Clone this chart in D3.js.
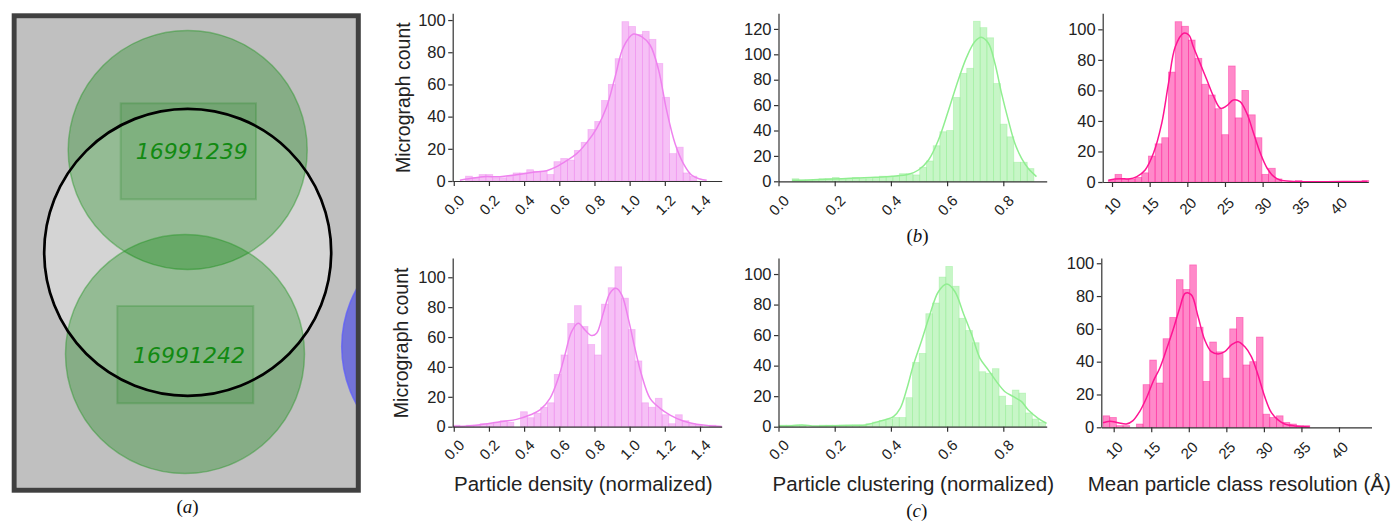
<!DOCTYPE html>
<html>
<head>
<meta charset="utf-8">
<script src="https://cdn.jsdelivr.net/npm/d3@7"></script>
<style>
    body { margin: 0; background: #fff; }
    svg { display: block; }
</style>
</head>
<body>
<div id="chart"></div>
<script>
(function(){
    // tick values
    const densityTicks = [0.0, 0.2, 0.4, 0.6, 0.8, 1.0, 1.2, 1.4];
    const clusteringTicks = [0.0, 0.2, 0.4, 0.6, 0.8];
    const resolutionTicks = [10, 15, 20, 25, 30, 35, 40];
    const countTicks = [0, 20, 40, 60, 80, 100];
    const countTicksTall = [0, 20, 40, 60, 80, 100, 120];

    // axis texts
    const yLabel = "Micrograph count";
    const xLabels = ["Particle density (normalized)", "Particle clustering (normalized)", "Mean particle class resolution (Å)"];
    const panelLetters = ["a", "b", "c"];
    const micrographIds = ["16991239", "16991242"];

    // row (b): histogram bins (first edge, width) and counts, kde
    const densityBStart = 0.0669, densityBWidth = 0.03867;
    const densityBCounts = [3, 2, 4, 4, 2, 2, 3, 5, 5, 7, 6, 6, 4, 12, 14, 13, 19, 24, 32, 37,
        50, 60, 76, 99, 96, 91, 93, 88, 73, 52, 17, 21, 5, 3];
    const densityBKde = [[0.035, 0.4], [0.073, 1.2], [0.168, 2.7], [0.263, 2.7], [0.357, 3.9], [0.452, 5.4],
        [0.528, 6.4], [0.585, 8.9], [0.642, 12.6], [0.699, 17], [0.755, 23.7], [0.812, 32.6], [0.869, 46],
        [0.917, 64.5], [0.964, 83], [1.021, 91.3], [1.068, 89.7], [1.116, 84.5], [1.163, 69.7], [1.21, 44],
        [1.258, 23.3], [1.305, 11], [1.352, 3.7], [1.4, 1.2], [1.438, 0.4]];

    const clusteringBStart = 0.0485, clusteringBWidth = 0.0239;
    const clusteringBCounts = [2, 1, 1, 1, 2, 2, 3, 2, 2, 3, 2, 2, 3, 4, 3, 4, 6, 6, 5, 11,
        16, 28, 39, 40, 66, 85, 89, 126, 121, 113, 77, 45, 35, 15, 15, 10];
    const clusteringBKde = [[0.0485, 0.8], [0.108, 1], [0.167, 1.6], [0.226, 2.1], [0.285, 2.6], [0.344, 3.1],
        [0.404, 3.9], [0.463, 5.5], [0.498, 8.9], [0.534, 16.8], [0.569, 32.5], [0.605, 56], [0.640, 80],
        [0.670, 98], [0.699, 110], [0.721, 113.4], [0.747, 108.7], [0.770, 93], [0.794, 69], [0.818, 48],
        [0.841, 30], [0.865, 18], [0.889, 10], [0.918, 3.7]];

    const resolutionBStart = 9.51, resolutionBWidth = 0.8867;
    const resolutionBCounts = [1, 5, 2, 2, 3, 6, 17, 25, 29, 72, 105, 102, 93, 81, 64, 57, 48, 31, 76, 42,
        60, 44, 29, 5, 9, 2, 0, 0, 1, 0, 0, 0, 0, 0, 0, 0, 0, 0, 1];
    const resolutionBKde = [[9.51, 1.1], [10.4, 2], [11.3, 2.2], [12.2, 2], [13.3, 3.5], [14.4, 7.9], [15.5, 18.8],
        [16.6, 38.4], [17.5, 64.6], [18.4, 88.6], [19.5, 97.4], [20.2, 96.3], [20.8, 88.6], [21.7, 77.7],
        [22.6, 66.8], [23.5, 55.9], [24.4, 48.3], [25.2, 49.8], [26.1, 53.7], [27.0, 52.6], [27.9, 45],
        [28.8, 31.9], [29.7, 18.8], [30.6, 9], [31.5, 3.5], [32.3, 1.3], [34.1, 0.4], [38.5, 0.2], [43.9, 0.4]];

    // row (c)
    const densityCStart = -0.003, densityCWidth = 0.0383;
    const densityCCounts = [1, 0, 1, 1, 2, 2, 3, 4, 3, 0, 10, 6, 9, 13, 16, 35, 48, 69, 81, 67,
        55, 48, 82, 93, 107, 86, 65, 44, 16, 13, 19, 8, 2, 8, 4, 2, 1, 0, 1];
    const densityCKde = [[0, 0.2], [0.073, 0.4], [0.168, 1.6], [0.263, 3.3], [0.357, 4.9], [0.433, 7.8],
        [0.49, 11.2], [0.547, 19], [0.594, 32.4], [0.632, 48], [0.67, 63.6], [0.708, 69.2], [0.746, 64.7],
        [0.784, 61], [0.812, 62.5], [0.85, 75.9], [0.888, 89.3], [0.922, 92.6], [0.955, 88.2], [0.992, 72.5],
        [1.03, 52.5], [1.068, 34.6], [1.116, 19], [1.173, 12.3], [1.23, 7.8], [1.305, 3.8], [1.381, 1.6],
        [1.457, 0.7], [1.524, 0.2]];

    const clusteringCStart = 0.0036, clusteringCWidth = 0.02367;
    const clusteringCCounts = [1, 1, 1, 1, 0, 0, 1, 1, 1, 1, 1, 1, 1, 2, 3, 4, 5, 6, 6, 19,
        42, 48, 74, 81, 98, 105, 92, 71, 63, 55, 36, 35, 38, 20, 14, 24, 22, 9, 5, 3];
    const clusteringCKde = [[0.001, 0.4], [0.049, 0.7], [0.084, 1.1], [0.131, 0.4], [0.202, 0.7], [0.273, 0.9],
        [0.309, 1.1], [0.344, 2.8], [0.38, 4.6], [0.409, 6.6], [0.433, 12], [0.457, 25], [0.48, 40.4],
        [0.51, 56.8], [0.54, 74.2], [0.569, 88.4], [0.599, 93.4], [0.628, 88.4], [0.658, 74.2], [0.688, 60],
        [0.717, 44.8], [0.747, 37.1], [0.776, 29.5], [0.806, 22.9], [0.836, 19.7], [0.865, 16.4],
        [0.889, 10.9], [0.924, 5.5], [0.954, 2.2]];

    const resolutionCStart = 8.58, resolutionCWidth = 0.888;
    const resolutionCCounts = [7, 6, 1, 1, 0, 2, 26, 41, 27, 54, 67, 90, 84, 99, 61, 28, 52, 46, 30, 60,
        67, 38, 40, 55, 8, 6, 7, 3, 2, 1, 1];
    const resolutionCKde = [[8.58, 2.8], [9.47, 3.7], [10.58, 2.8], [11.69, 2], [12.57, 4.1], [13.46, 9.6],
        [14.35, 17.7], [15.24, 27.8], [16.13, 36], [17.01, 47.2], [17.9, 59.3], [18.79, 72.6], [19.54, 81.7],
        [20.34, 80.7], [21.23, 67.5], [22.12, 53.3], [23.0, 46.1], [23.89, 44.7], [24.78, 46.1], [25.67, 50.2],
        [26.56, 52.2], [27.44, 49.2], [28.33, 43.1], [29.22, 31.9], [30.11, 18.7], [31.0, 8.9], [31.88, 4.5],
        [32.77, 2], [34.1, 0.8], [36.1, 0.2]];

    const W = 1397, H = 523;
    const FONT = "'Liberation Sans', Arial, sans-serif";
    const INK = "#222";

    var svg = d3.select("#chart").append("svg")
        .attr("width", W)
        .attr("height", H);

    // ---------- panel (a): micrograph picking view ----------
    var Micrograph = {
        draw: function() {
            var g = svg.append("g");
            g.append("clipPath").attr("id", "frameClip")
                .append("rect").attr("x", 16.7).attr("y", 18.3).attr("width", 339.3).attr("height", 469.4);
            var inner = g.append("g").attr("clip-path", "url(#frameClip)");
            inner.append("rect").attr("x", 10).attr("y", 10).attr("width", 360).attr("height", 490)
                .attr("fill", "#c0c0c0");
            // lighter disc behind the picked particles
            inner.append("circle").attr("cx", 187.7).attr("cy", 252.3).attr("r", 143.5)
                .attr("fill", "#d4d4d4");
            var discs = [{cx: 187.7, cy: 150, box: [120.7, 103.3, 135.3, 96]},
                         {cx: 185, cy: 354, box: [117.3, 306, 136, 97.3]}];
            inner.selectAll("circle.pick").data(discs).enter().append("circle")
                .attr("class", "pick")
                .attr("cx", function(d){ return d.cx; })
                .attr("cy", function(d){ return d.cy; })
                .attr("r", 119.5)
                .attr("fill", "rgba(0,128,0,0.3)")
                .attr("stroke", "rgba(40,150,40,0.45)")
                .attr("stroke-width", 1.5);
            inner.selectAll("rect.box").data(discs).enter().append("rect")
                .attr("class", "box")
                .attr("x", function(d){ return d.box[0]; })
                .attr("y", function(d){ return d.box[1]; })
                .attr("width", function(d){ return d.box[2]; })
                .attr("height", function(d){ return d.box[3]; })
                .attr("fill", "rgba(0,120,0,0.14)")
                .attr("stroke", "rgba(0,120,0,0.18)")
                .attr("stroke-width", 2);
            // neighbouring particle, cut by the frame
            inner.append("circle").attr("cx", 461.7).attr("cy", 346.7).attr("r", 120)
                .attr("fill", "rgba(0,0,255,0.4)")
                .attr("stroke", "rgba(90,90,255,0.7)")
                .attr("stroke-width", 1.5);
            inner.selectAll("text.id").data(discs).enter().append("text")
                .attr("class", "id")
                .attr("x", function(d){ return d.cx + 4; })
                .attr("y", function(d){ return d.cy + 9; })
                .attr("text-anchor", "middle")
                .attr("font-family", "'DejaVu Sans', sans-serif")
                .attr("font-style", "italic")
                .attr("font-size", "22px")
                .attr("fill", "#128a12")
                .text(function(d, i){ return micrographIds[i]; });
            inner.append("circle").attr("cx", 187.7).attr("cy", 252.3).attr("r", 143.5)
                .attr("fill", "none").attr("stroke", "#000").attr("stroke-width", 2.7);
            g.append("rect").attr("x", 14.2).attr("y", 15.8).attr("width", 344.1).attr("height", 474.4)
                .attr("fill", "none").attr("stroke", "#404040").attr("stroke-width", 5);
        }
    };

    // ---------- histogram panels ----------
    var panels = [
        {counts: densityBCounts, start: densityBStart, width: densityBWidth, kde: densityBKde, color: "#ee82ee",
         xTicks: densityTicks, yTicks: countTicks, fmt: ".1f", xDomain: [-0.006, 1.5234], yMax: 104.2,
         left: 452.7, right: 721.7, base: 181, top: 13.3, labelDy: 24, yLabelX: 409.5},
        {counts: clusteringBCounts, start: clusteringBStart, width: clusteringBWidth, kde: clusteringBKde, color: "#90ee90",
         xTicks: clusteringTicks, yTicks: countTicksTall, fmt: ".1f", xDomain: [0, 0.9544], yMax: 132.3,
         left: 778.5, right: 1046.7, base: 181.3, top: 13.3, labelDy: 24},
        {counts: resolutionBCounts, start: resolutionBStart, width: resolutionBWidth, kde: resolutionBKde, color: "#ff1493",
         xTicks: resolutionTicks, yTicks: countTicks, fmt: "d", xDomain: [8.764, 44.03], yMax: 110.5,
         left: 1102.7, right: 1368.3, base: 182, top: 13.3, labelDy: 24},
        {counts: densityCCounts, start: densityCStart, width: densityCWidth, kde: densityCKde, color: "#ee82ee",
         xTicks: densityTicks, yTicks: countTicks, fmt: ".1f", xDomain: [-0.006, 1.5234], yMax: 112.9,
         left: 452.7, right: 721.7, base: 426.7, top: 258, labelDy: 23, yLabelX: 407.5,
         xLabel: xLabels[0], xLabelX: 583.3},
        {counts: clusteringCCounts, start: clusteringCStart, width: clusteringCWidth, kde: clusteringCKde, color: "#90ee90",
         xTicks: clusteringTicks, yTicks: countTicks, fmt: ".1f", xDomain: [0, 0.9544], yMax: 110.5,
         left: 778.5, right: 1046.7, base: 426.7, top: 258, labelDy: 23,
         xLabel: xLabels[1], xLabelX: 913.3},
        {counts: resolutionCCounts, start: resolutionCStart, width: resolutionCWidth, kde: resolutionCKde, color: "#ff1493",
         xTicks: resolutionTicks, yTicks: countTicks, fmt: "d", xDomain: [8.35, 44.33], yMax: 103.2,
         left: 1101.3, right: 1371.5, base: 427.3, top: 258, labelDy: 23,
         xLabel: xLabels[2], xLabelX: 1239.2}
    ];

    var Hist = {
        draw: function(p) {
            var x = d3.scaleLinear().domain(p.xDomain).range([p.left, p.right]);
            var y = d3.scaleLinear().domain([0, p.yMax]).range([p.base, p.top]);
            var g = svg.append("g");

            // bars
            g.selectAll("rect")
                .data(p.counts.map(function(c, i){ return {c: c, i: i}; }).filter(function(d){ return d.c > 0; }))
                .enter()
                .append("rect")
                .attr("x", function(d){ return x(p.start + d.i * p.width); })
                .attr("width", function(d){ return x(p.start + (d.i + 1) * p.width) - x(p.start + d.i * p.width); })
                .attr("y", function(d){ return y(d.c); })
                .attr("height", function(d){ return p.base - y(d.c); })
                .attr("fill", p.color)
                .attr("fill-opacity", 0.5)
                .attr("stroke", p.color)
                .attr("stroke-opacity", 0.45)
                .attr("stroke-width", 0.8);

            // kde
            var line = d3.line()
                .x(function(d){ return x(d[0]); })
                .y(function(d){ return y(d[1]); })
                .curve(d3.curveCatmullRom.alpha(0.5));
            g.append("path")
                .datum(p.kde)
                .attr("d", line)
                .attr("fill", "none")
                .attr("stroke", p.color)
                .attr("stroke-width", 1.5);

            // axes
            var xAxis = g.append("g")
                .attr("transform", "translate(0," + p.base + ")")
                .call(d3.axisBottom(x).tickValues(p.xTicks).tickFormat(d3.format(p.fmt)).tickSize(5).tickSizeOuter(0));
            xAxis.selectAll("text")
                .attr("y", null)
                .attr("dy", "0.35em")
                .attr("transform", "translate(0," + p.labelDy + ") rotate(-45)")
                .attr("text-anchor", "middle")
                .attr("font-size", "15px");
            var yAxis = g.append("g")
                .attr("transform", "translate(" + p.left + ",0)")
                .call(d3.axisLeft(y).tickValues(p.yTicks).tickSize(4.5).tickPadding(2.5).tickSizeOuter(0));
            yAxis.selectAll("text").attr("font-size", "16.5px");
            [xAxis, yAxis].forEach(function(a){
                a.attr("font-family", FONT);
                a.selectAll("text").attr("fill", INK);
                a.selectAll("path, line").attr("stroke", "#333").attr("stroke-width", 1.2);
            });

            if (p.yLabelX) {
                g.append("text")
                    .attr("transform", "translate(" + p.yLabelX + "," + ((p.base + p.top) / 2 + 0.5) + ") rotate(-90)")
                    .attr("text-anchor", "middle")
                    .attr("font-family", FONT)
                    .attr("font-size", "19.5px")
                    .attr("fill", INK)
                    .text(yLabel);
            }
            if (p.xLabel) {
                g.append("text")
                    .attr("x", p.xLabelX)
                    .attr("y", 491)
                    .attr("text-anchor", "middle")
                    .attr("font-family", FONT)
                    .attr("font-size", "20.5px")
                    .attr("fill", INK)
                    .text(p.xLabel);
            }
        }
    };

    // sub-figure letters, "(a)" style
    function letter(cx, baseline, ch) {
        var t = svg.append("text")
            .attr("x", cx)
            .attr("y", baseline)
            .attr("text-anchor", "middle")
            .attr("font-family", "'Liberation Serif', 'Times New Roman', serif")
            .attr("font-size", "19px")
            .attr("fill", "#111");
        t.append("tspan").text("(");
        t.append("tspan").attr("font-style", "italic").text(ch);
        t.append("tspan").text(")");
    }

    Micrograph.draw();
    panels.forEach(function(p){ Hist.draw(p); });
    letter(187.5, 513, panelLetters[0]);
    letter(917.5, 242, panelLetters[1]);
    letter(916.7, 517, panelLetters[2]);
})();
</script>
</body>
</html>
